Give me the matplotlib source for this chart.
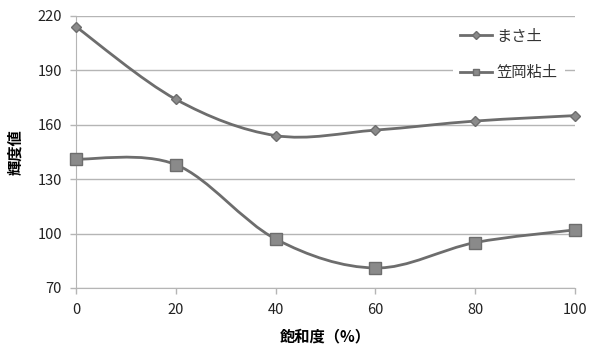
import numpy as np
import matplotlib.pyplot as plt
from matplotlib.path import Path
from matplotlib.patches import PathPatch
from matplotlib.lines import Line2D

plt.rcParams['font.family'] = ['Noto Sans CJK JP', 'DejaVu Sans']

saturation = [0, 20, 40, 60, 80, 100]
masa = [214, 174, 154, 157, 162, 165]
kasaoka = [141, 138, 97, 81, 95, 102]
labels = ['まさ土', '笠岡粘土']

line_color = '#6d6d6d'
marker_color = '#8a8a8a'


def smooth_path(x, y):
    # Catmull-Rom style bezier, same idea as spreadsheet "smoothed line"
    pts = np.column_stack([x, y]).astype(float)
    n = len(pts)
    verts = [pts[0]]
    codes = [Path.MOVETO]
    for i in range(n - 1):
        p0 = pts[max(i - 1, 0)]
        p1 = pts[i]
        p2 = pts[i + 1]
        p3 = pts[min(i + 2, n - 1)]
        c1 = p1 + (p2 - p0) / 6
        c2 = p2 - (p3 - p1) / 6
        verts += [c1, c2, p2]
        codes += [Path.CURVE4] * 3
    return Path(verts, codes)


fig = plt.figure(figsize=(5.89, 3.52), dpi=100)
ax = fig.add_axes([0.129, 0.182, 0.847, 0.773])

ax.set_xlim(0, 100)
ax.set_ylim(70, 220)
ax.set_xticks(saturation)
ax.set_yticks([70, 100, 130, 160, 190, 220])
ax.yaxis.grid(True, color='#b5b5b5', linewidth=1.0)
ax.set_axisbelow(True)

for key in ['top', 'right']:
    ax.spines[key].set_visible(False)
for key in ['left', 'bottom']:
    ax.spines[key].set_color('#b5b5b5')
ax.tick_params(axis='both', colors='#b5b5b5', labelcolor='#222222',
               labelsize=10.5, length=4, width=1)
ax.tick_params(axis='x', pad=7)
ax.tick_params(axis='y', pad=6)

styles = [dict(marker='D', markersize=5), dict(marker='s', markersize=8)]
legend_sizes = [4, 5]
handles = []
for vals, st, lab, ls in zip([masa, kasaoka], styles, labels, legend_sizes):
    ax.add_patch(PathPatch(smooth_path(saturation, vals), facecolor='none',
                           edgecolor=line_color, linewidth=2.0, zorder=3))
    ax.plot(saturation, vals, linestyle='none', color=marker_color,
            markeredgecolor=line_color, markeredgewidth=1, zorder=4,
            clip_on=False, **st)
    handles.append(Line2D([], [], color=line_color, linewidth=2.0,
                          marker=st['marker'], markersize=ls,
                          markerfacecolor=marker_color,
                          markeredgecolor=line_color))

leg = ax.legend(handles, labels, loc='upper left',
                bbox_to_anchor=(0.755, 0.985), frameon=True, fontsize=11,
                labelspacing=1.3, handlelength=2.1, handletextpad=0.25,
                borderpad=0.5, borderaxespad=0)
leg.get_frame().set_edgecolor('none')
leg.get_frame().set_facecolor('white')
leg.get_frame().set_alpha(1)
for t in leg.get_texts():
    t.set_color('#333333')

ax.set_ylabel('輝度値', fontsize=11, fontweight='bold', labelpad=10)
ax.set_xlabel('飽和度（%）', fontsize=11, fontweight='bold', labelpad=8)

fig.savefig('out.png', dpi=100)
